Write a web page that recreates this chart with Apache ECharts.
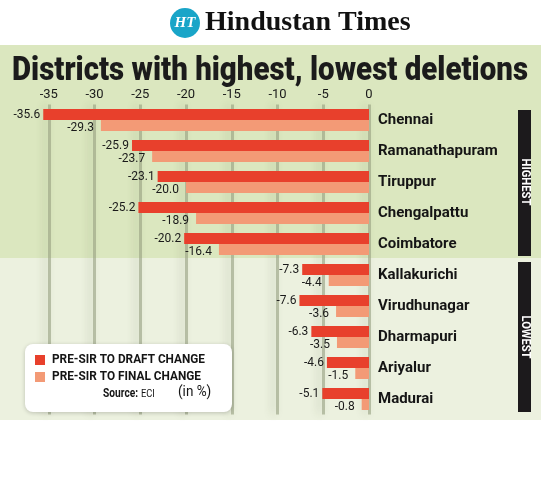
<!DOCTYPE html>
<html>
<head>
<meta charset="utf-8">
<script src="https://cdn.jsdelivr.net/npm/echarts@6/dist/echarts.min.js"></script>
<style>
  html, body { margin: 0; padding: 0; background: #fff; }
  #chart { width: 546px; height: 483px; }
</style>
</head>
<body>
<div id="chart"></div>
<script>
// districts, top five = highest deletions, bottom five = lowest
var districts = ['Chennai', 'Ramanathapuram', 'Tiruppur', 'Chengalpattu', 'Coimbatore',
  'Kallakurichi', 'Virudhunagar', 'Dharmapuri', 'Ariyalur', 'Madurai'];
var draftChange = [-35.6, -25.9, -23.1, -25.2, -20.2, -7.3, -7.6, -6.3, -4.6, -5.1];
var finalChange = [-29.3, -23.7, -20.0, -18.9, -16.4, -4.4, -3.6, -3.5, -1.5, -0.8];
var tickValues = [-35, -30, -25, -20, -15, -10, -5, 0];
var seriesNames = ['PRE-SIR TO DRAFT CHANGE', 'PRE-SIR TO FINAL CHANGE'];
var seriesColors = ['#e8402c', '#f39a76'];

var FONT = "Roboto, 'Noto Sans', sans-serif";

// squeeze text horizontally to imitate the condensed newspaper face
var measureCtx = document.createElement('canvas').getContext('2d');
function squeeze(text, font, width) {
  measureCtx.font = font;
  return width / measureCtx.measureText(text).width;
}

var titleText = 'Districts with highest, lowest deletions';
var titleFont = '900 33px ' + FONT;
var legendFont = 'bold 13px ' + FONT;
var bandFont = 'bold 12px ' + FONT;

var myChart = echarts.init(document.getElementById('chart'));

var gridColor = 'rgba(150,160,128,0.6)';

var option = {
  animation: false,
  backgroundColor: '#ffffff',
  grid: { left: 2, right: 177, top: 104.5, bottom: 68.5 },
  xAxis: {
    type: 'value',
    position: 'top',
    min: -40, max: 0, interval: 5,
    axisLine: { show: false },
    axisTick: { show: false },
    axisLabel: {
      margin: 3,
      fontFamily: FONT, fontSize: 13, color: '#1a1a1a',
      formatter: function (v) { return tickValues.indexOf(v) >= 0 ? String(v) : ''; }
    },
    splitLine: {
      lineStyle: {
        // first line (-40) sits at the panel edge, hide it
        color: ['rgba(0,0,0,0)', gridColor, gridColor, gridColor, gridColor, gridColor, gridColor, gridColor, gridColor],
        width: 3,
        shadowColor: 'rgba(60,70,40,0.3)', shadowBlur: 9, shadowOffsetX: -4
      }
    }
  },
  yAxis: {
    type: 'category',
    position: 'right',
    inverse: true,
    data: districts,
    axisLine: { show: false },
    axisTick: { show: false },
    axisLabel: {
      margin: 9,
      fontFamily: FONT, fontSize: 15, fontWeight: 'bold', color: '#151515'
    }
  },
  series: [
    {
      name: seriesNames[0],
      type: 'bar',
      data: draftChange,
      barWidth: 11,
      barGap: '0%',
      itemStyle: { color: seriesColors[0] },
      label: {
        show: true, position: 'left', distance: 3,
        fontFamily: FONT, fontSize: 12, color: '#1a1a1a',
        formatter: function (p) { return p.value.toFixed(1); }
      }
    },
    {
      name: seriesNames[1],
      type: 'bar',
      data: finalChange,
      barWidth: 11,
      itemStyle: { color: seriesColors[1] },
      label: {
        show: true, position: 'left', distance: 7, offset: [0, 2],
        fontFamily: FONT, fontSize: 12, color: '#1a1a1a',
        formatter: function (p) { return p.value.toFixed(1); }
      }
    }
  ],
  graphic: [
    // panel backgrounds
    { type: 'rect', z: -10, shape: { x: 0, y: 45, width: 541, height: 213 }, style: { fill: '#dbe7bf' } },
    { type: 'rect', z: -10, shape: { x: 0, y: 258, width: 541, height: 162 }, style: { fill: '#ecf1df' } },
    // masthead
    { type: 'circle', shape: { cx: 185, cy: 23, r: 15 }, style: { fill: '#19a5c8' } },
    { type: 'text', x: 185, y: 23, style: { text: 'HT', fill: '#fff', font: 'italic bold 15px "Liberation Serif", serif', align: 'center', verticalAlign: 'middle' } },
    { type: 'text', x: 205, y: 23, style: { text: 'Hindustan Times', fill: '#111', font: 'bold 28px "Liberation Serif", serif', verticalAlign: 'middle' } },
    // title
    { type: 'text', x: 270, y: 72, scaleX: squeeze(titleText, titleFont, 516),
      style: { text: titleText, fill: '#1b1b1b', font: titleFont, align: 'center', verticalAlign: 'middle' } },
    // group bands
    { type: 'rect', shape: { x: 518, y: 110, width: 13, height: 146 }, style: { fill: '#1c1a1c' } },
    { type: 'text', x: 525, y: 182, rotation: -Math.PI / 2, scaleX: squeeze('HIGHEST', bandFont, 47),
      style: { text: 'HIGHEST', fill: '#fff', font: bandFont, align: 'center', verticalAlign: 'middle' } },
    { type: 'rect', shape: { x: 518, y: 262, width: 13, height: 150 }, style: { fill: '#1c1a1c' } },
    { type: 'text', x: 525, y: 337, rotation: -Math.PI / 2, scaleX: squeeze('LOWEST', bandFont, 43),
      style: { text: 'LOWEST', fill: '#fff', font: bandFont, align: 'center', verticalAlign: 'middle' } },
    // legend box
    { type: 'rect', z: 5, shape: { x: 25, y: 344, width: 207, height: 68, r: 8 },
      style: { fill: '#ffffff', shadowColor: 'rgba(0,0,0,0.2)', shadowBlur: 4, shadowOffsetY: 1 } },
    { type: 'rect', z: 6, shape: { x: 35, y: 355, width: 10, height: 10 }, style: { fill: seriesColors[0] } },
    { type: 'text', z: 6, x: 52, y: 360, scaleX: squeeze(seriesNames[0], legendFont, 153),
      style: { text: seriesNames[0], fill: '#151515', font: legendFont, verticalAlign: 'middle' } },
    { type: 'rect', z: 6, shape: { x: 35, y: 372, width: 10, height: 10 }, style: { fill: seriesColors[1] } },
    { type: 'text', z: 6, x: 52, y: 377, scaleX: squeeze(seriesNames[1], legendFont, 149),
      style: { text: seriesNames[1], fill: '#151515', font: legendFont, verticalAlign: 'middle' } },
    { type: 'text', z: 6, x: 103, y: 394, scaleX: 0.85, style: {
      text: '{b|Source:} {r|ECI}', verticalAlign: 'middle',
      rich: {
        b: { fontFamily: FONT, fontSize: 12, fontWeight: 'bold', fill: '#151515' },
        r: { fontFamily: FONT, fontSize: 11, fill: '#151515' }
      }
    } },
    { type: 'text', z: 6, x: 178, y: 392, scaleX: 0.9, style: { text: '(in %)', fill: '#151515', font: '15px ' + FONT, verticalAlign: 'middle' } }
  ]
};

myChart.setOption(option);
</script>
</body>
</html>
